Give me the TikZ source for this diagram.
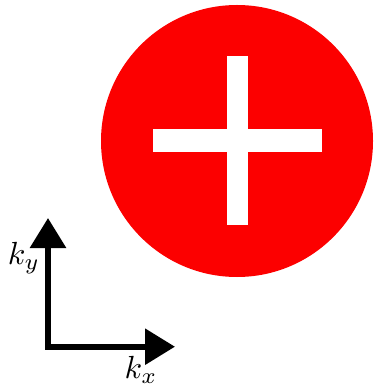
\documentclass[tikz,border=0pt]{standalone}
\usetikzlibrary{arrows.meta}
\definecolor{plusred}{RGB}{252,0,0}
\begin{document}
\begin{tikzpicture}[x=1pt,y=-1pt,
  lbl/.style={scale=3.2, inner sep=0pt}]
\useasboundingbox (0,0) rectangle (373,387);
\node[circle, fill=plusred, minimum size=272pt, inner sep=0pt] (c) at (237,141) {};
\fill[white] (153.3,129.3) rectangle (321.7,151.7);
\fill[white] (226.7,56) rectangle (248.3,225);
\coordinate (o) at (48,346.7);
\coordinate (ytip) at (48,218);
\coordinate (xtip) at (175,346.7);
\draw[line width=6pt, line join=miter, {Triangle[length=30pt,width=35pt]}-{Triangle[length=30pt,width=35pt]}] (ytip) -- (o) -- (xtip);
\node[lbl] (ky) at (24,258) {$k_y$};
\node[lbl] (kx) at (141,370) {$k_x$};
\end{tikzpicture}
\end{document}
